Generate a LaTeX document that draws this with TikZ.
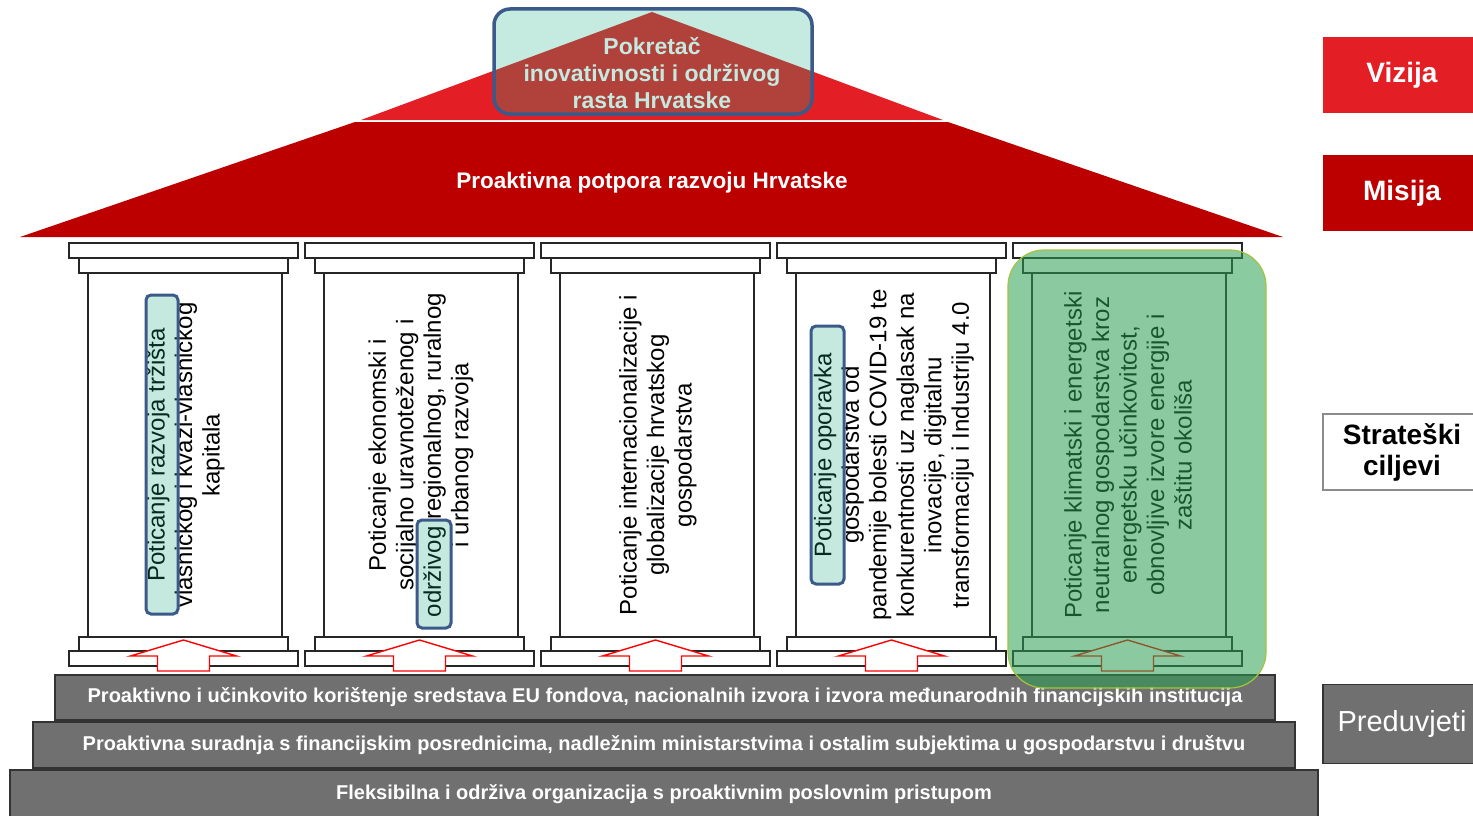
\documentclass[tikz,border=0pt]{standalone}
\usepackage{fontspec}
\setmainfont{Liberation Sans}
\usepackage{tikz}
\usetikzlibrary{positioning}

\definecolor{vizred}{RGB}{227,30,36}
\definecolor{misred}{RGB}{188,0,0}
\definecolor{mint}{RGB}{24,170,128}
\definecolor{hlblue}{RGB}{59,90,138}
\definecolor{leaf}{RGB}{44,160,82}
\definecolor{leafrim}{RGB}{165,195,60}
\definecolor{stepgray}{RGB}{112,112,112}

\begin{document}
\begin{tikzpicture}[x=1pt, y=-1pt,
  pillar/.style={draw=black!85, fill=white, line width=1.4pt},
  goal/.style={rotate=90, align=center, inner sep=0pt, font=\fontsize{24}{27.5}\selectfont},
  hilite/.style={draw=hlblue, line width=3pt, fill=mint, fill opacity=0.25, rounded corners=5pt},
  lift/.style={draw=red, fill=white, line width=1.4pt},
  stepbox/.style={draw=black!80, fill=stepgray, line width=1.6pt, text=white, inner sep=0pt, font=\fontsize{20}{22}\selectfont\bfseries},
  tag/.style={minimum width=158pt, minimum height=76pt, inner sep=0pt, align=center, font=\fontsize{28}{31}\selectfont\bfseries}]
\useasboundingbox (0,0) rectangle (1473,816);

\fill[vizred] (652,12) -- (943,120) -- (361,120) -- cycle;
\fill[misred] (355,122) -- (948,122) -- (1283,237) -- (20,237) -- cycle;
\node[text=white, font=\fontsize{22.5}{26}\selectfont\bfseries] (mission) at (652,183) {Proaktivna potpora razvoju Hrvatske};
\node[text=white, align=center, font=\fontsize{23}{27}\selectfont\bfseries] (vision) at (652,73) {Pokretač\\inovativnosti i održivog\\rasta Hrvatske};
\draw[hilite, line width=3.5pt, rounded corners=16pt] (494,9) rectangle (812,114);

\draw[pillar] (69,243) rectangle (298,258) (79,258) rectangle (288,273) (88,273) rectangle (282,637) (79,637) rectangle (288,651) (69,651) rectangle (298,666);
\draw[pillar] (305,243) rectangle (534,258) (315,258) rectangle (524,273) (324,273) rectangle (518,637) (315,637) rectangle (524,651) (305,651) rectangle (534,666);
\draw[pillar] (541,243) rectangle (770,258) (551,258) rectangle (760,273) (560,273) rectangle (754,637) (551,637) rectangle (760,651) (541,651) rectangle (770,666);
\draw[pillar] (777,243) rectangle (1006,258) (787,258) rectangle (996,273) (796,273) rectangle (990,637) (787,637) rectangle (996,651) (777,651) rectangle (1006,666);
\draw[pillar] (1013,243) rectangle (1242,258) (1023,258) rectangle (1232,273) (1032,273) rectangle (1226,637) (1023,637) rectangle (1232,651) (1013,651) rectangle (1242,666);

\draw[lift] (183.5,640) -- ++(53,16) -- ++(-27,0) -- ++(0,15) -- ++(-52,0) -- ++(0,-15) -- ++(-27,0) -- cycle;
\draw[lift] (419.5,640) -- ++(53,16) -- ++(-27,0) -- ++(0,15) -- ++(-52,0) -- ++(0,-15) -- ++(-27,0) -- cycle;
\draw[lift] (655.5,640) -- ++(53,16) -- ++(-27,0) -- ++(0,15) -- ++(-52,0) -- ++(0,-15) -- ++(-27,0) -- cycle;
\draw[lift] (891.5,640) -- ++(53,16) -- ++(-27,0) -- ++(0,15) -- ++(-52,0) -- ++(0,-15) -- ++(-27,0) -- cycle;
\draw[lift] (1127.5,640) -- ++(53,16) -- ++(-27,0) -- ++(0,15) -- ++(-52,0) -- ++(0,-15) -- ++(-27,0) -- cycle;

\node[goal] (g1) at (186,455) {Poticanje razvoja tržišta\\vlasnickog i kvazi-vlasnickog\\kapitala};
\node[goal] (g2) at (421,455) {Poticanje ekonomski i\\socijalno uravnoteženog i\\održivog regionalnog, ruralnog\\i urbanog razvoja};
\node[goal] (g3) at (658,455) {Poticanje internacionalizacije i\\globalizacije hrvatskog\\gospodarstva};
\node[goal] (g4) at (894,455) {Poticanje oporavka\\gospodarstva od\\pandemije bolesti COVID-19 te\\konkurentnosti uz naglasak na\\inovacije, digitalnu\\transformaciju i Industriju 4.0};
\node[goal] (g5) at (1128,455) {Poticanje klimatski i energetski\\neutralnog gospodarstva kroz\\energetsku učinkovitost,\\obnovljive izvore energije i\\zaštitu okoliša};

\draw[hilite] (146,295) rectangle (178,614);
\draw[hilite] (417,520) rectangle (451,628);
\draw[hilite] (811,326) rectangle (844,584);

\node[stepbox, minimum width=1220pt, minimum height=45pt] (base1) at (665,697.5) {Proaktivno i učinkovito korištenje sredstava EU fondova, nacionalnih izvora i izvora međunarodnih financijskih institucija};
\node[stepbox, minimum width=1262pt, minimum height=46pt] (base2) at (664,745) {Proaktivna suradnja s financijskim posrednicima, nadležnim ministarstvima i ostalim subjektima u gospodarstvu i društvu};
\node[stepbox, minimum width=1308pt, minimum height=48pt] (base3) at (664,794) {Fleksibilna i održiva organizacija s proaktivnim poslovnim pristupom};

\draw[draw=leafrim, line width=1.2pt, fill=leaf, fill opacity=0.55, rounded corners=36pt] (1008,250) rectangle (1266,688);

\node[tag, fill=vizred, text=white] (vizija) at (1402,75) {Vizija};
\node[tag, fill=misred, text=white] (misija) at (1402,193) {Misija};
\node[tag, draw=black!45, line width=1.2pt, fill=white] (ciljevi) at (1402,452) {Strateški\\ciljevi};
\node[tag, stepbox, minimum height=79pt, font=\fontsize{29}{31}\selectfont] (preduvjeti) at (1402,724) {Preduvjeti};
\end{tikzpicture}
\end{document}
